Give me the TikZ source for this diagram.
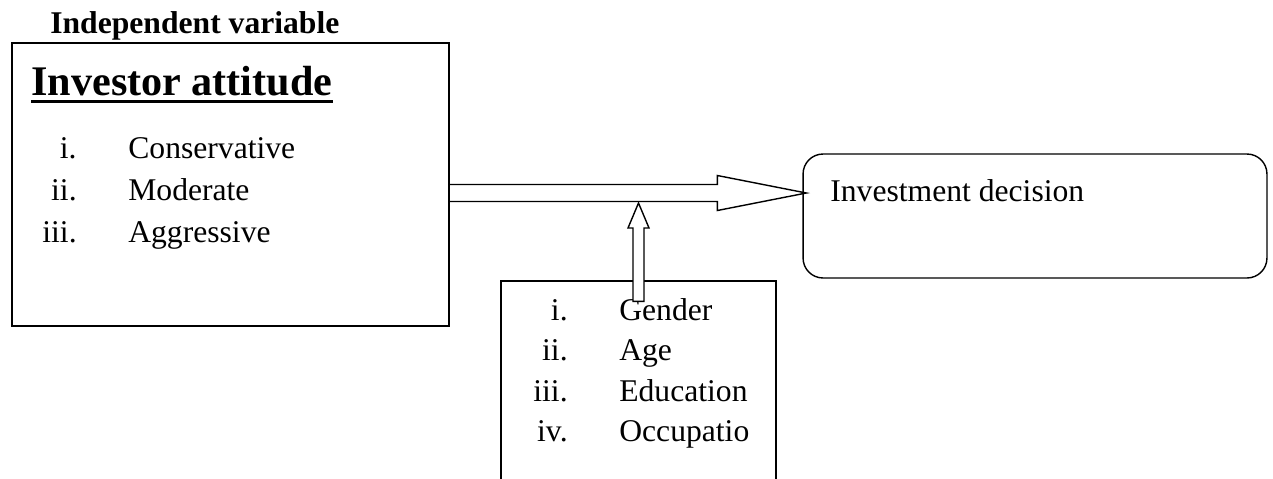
\documentclass[tikz,border=0pt]{standalone}
\usepackage{fontspec}
\setmainfont{Liberation Serif}
\usetikzlibrary{positioning, calc}

\begin{document}
\begin{tikzpicture}[
    x=0.02cm, y=-0.02cm,
    box/.style={rectangle, draw, line width=0.8pt, inner sep=0pt},
    roundbox/.style={box, rounded corners=0.4cm},
    txt/.style={inner sep=0pt, font=\fontsize{18}{21}\selectfont},
    num/.style={txt, anchor=base east},
    item/.style={txt, base right=1.02cm of #1},
    arrowbox/.style={draw, line width=0.8pt, line join=miter}
]
    \clip (0,0) rectangle (1273,478);

    % Boxes
    \node [box, minimum width=8.74cm, minimum height=5.66cm] (attitude) at (230.5,184.5) {};
    \node [box, minimum width=5.5cm, minimum height=4.4cm] (factors) at (638.5,391) {};
    \node [roundbox, minimum width=9.28cm, minimum height=2.48cm] (decision) at (1035,216) {};

    % Headings
    \node [txt, anchor=base west, font=\fontsize{18}{21}\selectfont\bfseries] (indep) at (50,33) {Independent variable};
    \node [txt, anchor=base west, font=\fontsize{24}{28}\selectfont\bfseries] (title) at (31,95) {Investor attitude};
    \draw [line width=1.7pt] ([yshift=-0.12cm]title.base west) -- ([yshift=-0.12cm]title.base east);
    \node [txt, anchor=base west] (result) at (830,201) {Investment decision};

    % Attitude list
    \node [num] (n1) at (77,158) {i.};
    \node [item=n1] (t1) {Conservative};
    \node [num] (n2) at (77,200) {ii.};
    \node [item=n2] (t2) {Moderate};
    \node [num] (n3) at (77,242) {iii.};
    \node [item=n3] (t3) {Aggressive};

    % Demographic list
    \node [num] (m1) at (568,320) {i.};
    \node [item=m1] (d1) {Gender};
    \node [num] (m2) at (568,360.5) {ii.};
    \node [item=m2] (d2) {Age};
    \node [num] (m3) at (568,401) {iii.};
    \node [item=m3] (d3) {Education};
    \node [num] (m4) at (568,441) {iv.};
    \node [item=m4] (d4) {Occupatio};

    % Arrows
    \coordinate (tip1) at ($(decision.west)+(4,-23)$);
    \coordinate (start1) at (attitude.east |- tip1);
    \draw [arrowbox] ($(start1)+(0,-8.5)$) -- ($(tip1)+(-89,-8.5)$) -- ($(tip1)+(-89,-17.5)$)
        -- (tip1) -- ($(tip1)+(-89,17.5)$) -- ($(tip1)+(-89,8.5)$) -- ($(start1)+(0,8.5)$);

    \coordinate (tip2) at ($(factors.north |- tip1)+(0,10)$);
    \coordinate (start2) at ($(factors.north)+(0,21)$);
    \draw [arrowbox, fill=white] ($(start2)+(-5.5,0)$) -- ($(tip2)+(-5.5,25)$) -- ($(tip2)+(-10.5,25)$)
        -- (tip2) -- ($(tip2)+(10.5,25)$) -- ($(tip2)+(5.5,25)$) -- ($(start2)+(5.5,0)$) -- cycle;
\end{tikzpicture}
\end{document}
